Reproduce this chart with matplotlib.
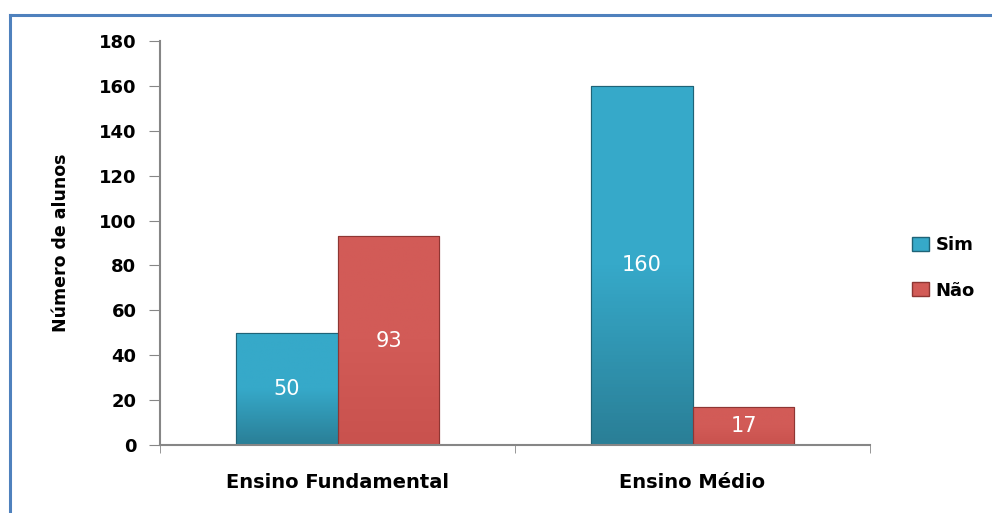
import matplotlib
matplotlib.use("Agg")
import matplotlib.pyplot as plt
import numpy as np
from matplotlib.colors import LinearSegmentedColormap
from matplotlib.lines import Line2D
from matplotlib.patches import Rectangle

categories = ["Ensino Fundamental", "Ensino Médio"]
series_names = ["Sim", "Não"]
sim_values = [50, 160]
nao_values = [93, 17]
y_ticks = [0, 20, 40, 60, 80, 100, 120, 140, 160, 180]
y_label = "Número de alunos"

plt.rcParams['font.family'] = ['DejaVu Sans']

fig = plt.figure(figsize=(9.92, 5.13), dpi=100)
ax = fig.add_axes([160/992, 1-445/513, 710/992, 404/513])

# border of the chart area
fig.add_artist(Line2D([10/992, 10/992], [0, 1-15/513], transform=fig.transFigure, color="#4F81BD", lw=2.2))
fig.add_artist(Line2D([10/992, 1.0], [1-15/513, 1-15/513], transform=fig.transFigure, color="#4F81BD", lw=2.2))

x = np.arange(len(categories))
w = 0.287
colors = {"Sim": ("#36A9C9", "#2A7F97", "#1F6377"), "Não": ("#D25B57", "#C9524E", "#8E3633")}

def draw(vals, offset, name):
    top, bot, edge = colors[name]
    cmap = LinearSegmentedColormap.from_list(name, [bot, top, top])
    bars = ax.bar(x + offset, vals, w, color=top, edgecolor=edge, linewidth=0.8, zorder=2, label=name)
    for b in bars:
        x0, y0 = b.get_x(), b.get_y()
        bw, bh = b.get_width(), b.get_height()
        grad = np.linspace(0, 1, 100).reshape(-1, 1)
        im = ax.imshow(grad, extent=[x0, x0 + bw, y0, y0 + bh], origin="lower",
                       cmap=cmap, aspect="auto", zorder=2.1)
        im.set_clip_path(b)
        ax.add_patch(Rectangle((x0, y0), bw, bh, fill=False, edgecolor=edge, lw=0.8, zorder=2.2))
        ax.text(x0 + bw/2, y0 + bh/2, f"{int(bh)}", ha="center", va="center",
                color="white", fontsize=15, zorder=3)
    return bars

b1 = draw(sim_values, -w/2, "Sim")
b2 = draw(nao_values, w/2, "Não")

ax.set_xlim(-0.5, 1.5)
ax.set_ylim(0, 180)
ax.set_yticks(y_ticks)
ax.set_yticklabels([str(t) for t in y_ticks], fontsize=13, fontweight="bold")
ax.set_xticks(x)
ax.set_xticklabels(categories, fontsize=14, fontweight="bold")
ax.tick_params(axis="x", length=0, pad=20)
ax.set_xticks([-0.5, 0.5, 1.5], minor=True)
ax.tick_params(axis="x", which="minor", length=6, color="#868686", direction="out")
ax.tick_params(axis="y", length=8, color="#868686", direction="out", pad=9)
for s in ["top", "right"]:
    ax.spines[s].set_visible(False)
for s in ["left", "bottom"]:
    ax.spines[s].set_color("#868686")
    ax.spines[s].set_linewidth(1.5)
ax.set_ylabel(y_label, fontsize=12.5, fontweight="bold")
ax.yaxis.set_label_coords(-90/710, 0.5)

handles = [Rectangle((0, 0), 1, 1, facecolor=colors[n][0], edgecolor=colors[n][2]) for n in series_names]
fig.legend(handles, series_names, loc="center left", bbox_to_anchor=(896/992, 1-268/513),
           frameon=False, prop={"weight": "bold", "size": 13}, handlelength=0.9, handleheight=0.8,
           handletextpad=0.4, labelspacing=1.5)

fig.savefig("out.png", dpi=100)
